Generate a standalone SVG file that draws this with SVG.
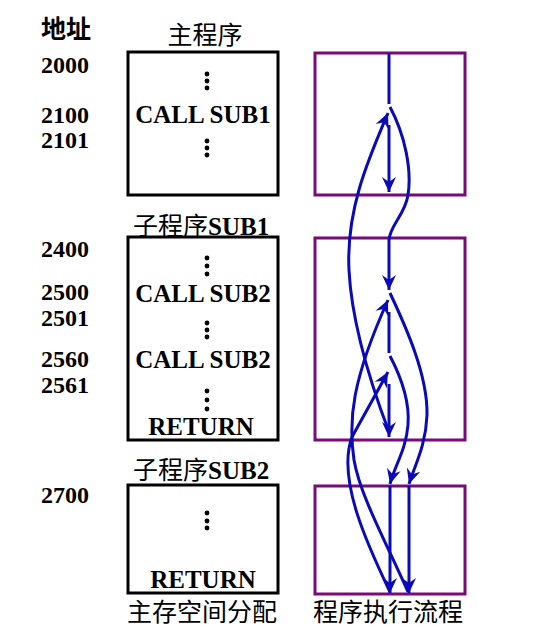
<svg xmlns="http://www.w3.org/2000/svg" width="542" height="633" viewBox="0 0 542 633">
<style>
  .t { font-family: "Liberation Serif", "Noto Sans CJK SC", serif; font-weight: bold; font-size: 24px; fill: #000; }
  .code { font-size: 25px; text-anchor: middle; }
  .cjk { font-family: "Noto Sans CJK SC", sans-serif; font-weight: normal; font-size: 25px; }
  .mem { fill: #fff; stroke: #000; stroke-width: 3; }
  .exe { fill: none; stroke: #7a0a7a; stroke-width: 3; }
  .flow { fill: none; stroke: #0a0ab8; stroke-width: 3; }
  .dot { fill: #000; }
</style>
<defs>
  <marker id="ah" markerUnits="userSpaceOnUse" markerWidth="18" markerHeight="16" viewBox="-16 -8 17 16" refX="0" refY="0" orient="auto">
    <path d="M0,0 L-15,-7 L-10,0 L-15,7 Z" fill="#0a0ab8"/>
  </marker>
</defs>

<g id="labels">
  <text class="t cjk" x="41" y="38" style="font-weight:bold">地址</text>
  <text class="t" x="41" y="73">2000</text>
  <text class="t" x="41" y="123">2100</text>
  <text class="t" x="41" y="148">2101</text>
  <text class="t" x="41" y="257">2400</text>
  <text class="t" x="41" y="300">2500</text>
  <text class="t" x="41" y="326">2501</text>
  <text class="t" x="41" y="367">2560</text>
  <text class="t" x="41" y="393">2561</text>
  <text class="t" x="41" y="503">2700</text>
</g>

<g id="main-program">
  <text class="t cjk" x="205" y="44" text-anchor="middle">主程序</text>
  <rect class="mem" x="128" y="52" width="150" height="143"/>
  <circle class="dot" cx="207" cy="74" r="2.4"/>
  <circle class="dot" cx="207" cy="81" r="2.4"/>
  <circle class="dot" cx="207" cy="88" r="2.4"/>
  <text class="t code" x="203" y="123">CALL SUB1</text>
  <circle class="dot" cx="207" cy="141" r="2.4"/>
  <circle class="dot" cx="207" cy="148" r="2.4"/>
  <circle class="dot" cx="207" cy="155" r="2.4"/>
</g>

<g id="sub1">
  <text class="t" x="133" y="235"><tspan class="cjk">子程序</tspan><tspan font-size="25">SUB1</tspan></text>
  <rect class="mem" x="128" y="237" width="150" height="203"/>
  <circle class="dot" cx="207" cy="258" r="2.4"/>
  <circle class="dot" cx="207" cy="266" r="2.4"/>
  <circle class="dot" cx="207" cy="274" r="2.4"/>
  <text class="t code" x="203" y="302">CALL SUB2</text>
  <circle class="dot" cx="207" cy="323" r="2.4"/>
  <circle class="dot" cx="207" cy="330" r="2.4"/>
  <circle class="dot" cx="207" cy="337" r="2.4"/>
  <text class="t code" x="203" y="368">CALL SUB2</text>
  <circle class="dot" cx="207" cy="391" r="2.4"/>
  <circle class="dot" cx="207" cy="400" r="2.4"/>
  <circle class="dot" cx="207" cy="409" r="2.4"/>
  <text class="t code" x="201" y="435">RETURN</text>
</g>

<g id="sub2">
  <text class="t" x="133" y="479"><tspan class="cjk">子程序</tspan><tspan font-size="25">SUB2</tspan></text>
  <rect class="mem" x="128" y="485" width="150" height="108"/>
  <circle class="dot" cx="207" cy="513" r="2.4"/>
  <circle class="dot" cx="207" cy="521" r="2.4"/>
  <circle class="dot" cx="207" cy="528" r="2.4"/>
  <text class="t code" x="203" y="588">RETURN</text>
  <text class="t cjk" x="202" y="621" text-anchor="middle" font-size="24">主存空间分配</text>
</g>

<g id="exec-main">
  <rect class="exe" x="315" y="53" width="150" height="142"/>
</g>
<g id="exec-sub1">
  <rect class="exe" x="315" y="238" width="150" height="202"/>
</g>
<g id="exec-sub2">
  <rect class="exe" x="315" y="486" width="150" height="108"/>
  <text class="t cjk" x="388" y="621" text-anchor="middle" font-size="24">程序执行流程</text>
</g>

<g id="connectors">
  <path class="flow" d="M389,53 L389,104"/>
  <path class="flow" d="M390,107 C405,135 412,170 408,195 C405,215 390,225 389,240 L389,290" marker-end="url(#ah)"/>
  <path class="flow" d="M389,432 C375,395 352,330 349,270 C346,210 368,160 388,113" marker-end="url(#ah)"/>
  <path class="flow" d="M389,125 L389,192" marker-end="url(#ah)"/>
  <path class="flow" d="M390,293 C405,325 428,375 427,415 C426,445 415,465 409,484" marker-end="url(#ah)"/>
  <path class="flow" d="M389,312 L389,353"/>
  <path class="flow" d="M390,356 C400,375 410,400 408,425 C406,450 395,465 390,484" marker-end="url(#ah)"/>
  <path class="flow" d="M389,384 L389,437" marker-end="url(#ah)"/>
  <path class="flow" d="M409,486 L409,593" marker-end="url(#ah)"/>
  <path class="flow" d="M390,486 L390,593" marker-end="url(#ah)"/>
  <path class="flow" d="M408,592 C385,540 360,495 354,460 C348,420 352,380 388,300" marker-end="url(#ah)"/>
  <path class="flow" d="M390,592 C370,550 336,480 352,437 L388,372" marker-end="url(#ah)"/>
</g>
</svg>
